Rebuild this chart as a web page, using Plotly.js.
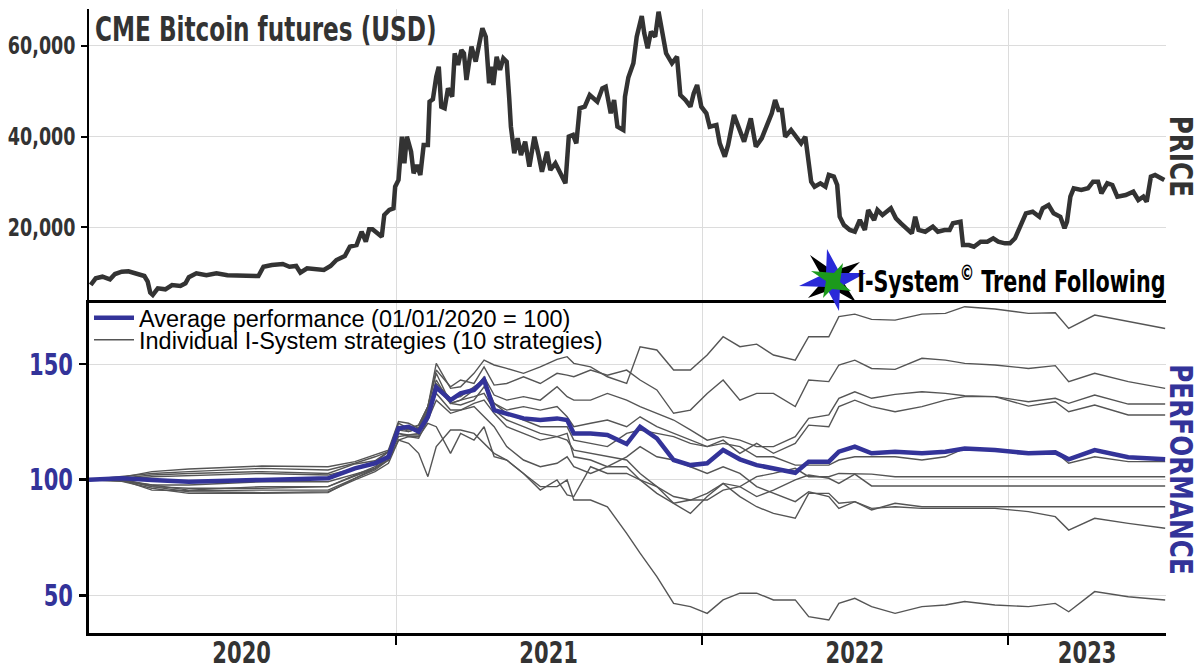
<!DOCTYPE html>
<html>
<head>
<meta charset="utf-8">
<script src="https://cdn.plot.ly/plotly-3.0.1.min.js"></script>
<style>html,body{margin:0;padding:0;background:#fff;}#chart{width:1203px;height:669px;}</style>
</head>
<body>
<div id="chart"></div>
<script>
// ---------------- DATA ----------------
const priceDates = ['2020-01-03','2020-01-09','2020-01-17','2020-01-26','2020-02-01','2020-02-09','2020-02-17','2020-02-26','2020-03-07','2020-03-11','2020-03-14','2020-03-17','2020-03-23','2020-04-01','2020-04-09','2020-04-19','2020-04-25','2020-04-29','2020-05-08','2020-05-20','2020-06-01','2020-06-14','2020-06-26','2020-07-09','2020-07-21','2020-07-27','2020-08-06','2020-08-19','2020-08-27','2020-09-04','2020-09-09','2020-09-17','2020-09-29','2020-10-07','2020-10-15','2020-10-22','2020-11-01','2020-11-07','2020-11-15','2020-11-21','2020-11-26','2020-11-30','2020-12-04','2020-12-12','2020-12-15','2020-12-18','2020-12-24','2020-12-29','2020-12-31','2021-01-04','2021-01-08','2021-01-11','2021-01-14','2021-01-19','2021-01-22','2021-01-26','2021-01-30','2021-02-03','2021-02-08','2021-02-10','2021-02-14','2021-02-18','2021-02-21','2021-02-24','2021-02-28','2021-03-04','2021-03-09','2021-03-12','2021-03-16','2021-03-20','2021-03-23','2021-03-26','2021-03-29','2021-04-01','2021-04-06','2021-04-10','2021-04-14','2021-04-18','2021-04-22','2021-04-25','2021-04-27','2021-05-01','2021-05-05','2021-05-09','2021-05-13','2021-05-16','2021-05-18','2021-05-22','2021-05-26','2021-05-30','2021-06-04','2021-06-09','2021-06-15','2021-06-20','2021-06-24','2021-06-30','2021-07-04','2021-07-10','2021-07-16','2021-07-22','2021-07-26','2021-07-31','2021-08-04','2021-08-08','2021-08-14','2021-08-20','2021-08-29','2021-09-04','2021-09-08','2021-09-14','2021-09-18','2021-09-22','2021-09-29','2021-10-01','2021-10-05','2021-10-11','2021-10-15','2021-10-21','2021-10-24','2021-10-28','2021-11-01','2021-11-06','2021-11-10','2021-11-15','2021-11-19','2021-11-26','2021-12-02','2021-12-06','2021-12-12','2021-12-18','2021-12-22','2021-12-26','2021-12-31','2022-01-06','2022-01-10','2022-01-18','2022-01-22','2022-01-28','2022-02-01','2022-02-08','2022-02-14','2022-02-20','2022-02-28','2022-03-06','2022-03-13','2022-03-19','2022-03-25','2022-03-29','2022-04-02','2022-04-06','2022-04-10','2022-04-17','2022-04-23','2022-04-29','2022-05-04','2022-05-07','2022-05-11','2022-05-15','2022-05-22','2022-05-28','2022-06-01','2022-06-07','2022-06-11','2022-06-14','2022-06-19','2022-06-26','2022-07-02','2022-07-08','2022-07-14','2022-07-18','2022-07-25','2022-07-29','2022-08-04','2022-08-14','2022-08-20','2022-08-26','2022-09-02','2022-09-08','2022-09-12','2022-09-16','2022-09-24','2022-10-03','2022-10-09','2022-10-17','2022-10-23','2022-10-27','2022-11-05','2022-11-08','2022-11-15','2022-11-21','2022-11-29','2022-12-07','2022-12-14','2022-12-20','2022-12-28','2023-01-03','2023-01-09','2023-01-16','2023-01-22','2023-01-30','2023-02-07','2023-02-11','2023-02-18','2023-02-24','2023-03-04','2023-03-09','2023-03-12','2023-03-16','2023-03-20','2023-03-29','2023-04-06','2023-04-12','2023-04-18','2023-04-22','2023-04-29','2023-05-05','2023-05-11','2023-05-21','2023-05-30','2023-06-05','2023-06-11','2023-06-15','2023-06-20','2023-06-25','2023-07-01','2023-07-06'];
const priceValues = [7290,8770,9120,8550,9710,10220,10300,9710,9270,8020,5600,5090,6560,6340,7290,7070,7660,9000,9870,9430,9870,9430,9430,9270,9270,11320,11700,11920,11320,11480,10000,10970,10750,10600,11480,12800,13680,15730,16100,19030,16830,19560,19560,18300,17930,22710,23810,24180,28940,30420,39960,34100,39960,36650,31890,33720,31520,38130,38130,47660,48190,53170,55370,46560,46210,50610,48770,58330,55750,59050,58330,52440,55750,59780,56480,60150,63830,61980,51720,55370,51340,57580,54650,57220,56480,48410,42160,36300,39600,35930,38850,33350,39960,35930,32250,36650,32620,34100,31890,29690,39960,40330,38500,46210,46560,49140,47660,50610,50970,45110,48040,42160,41430,48770,53000,56120,61980,66540,62730,59430,63090,61980,67490,61980,58330,56120,57580,49140,48040,46560,49510,51340,46560,45110,42160,42530,38500,35550,38130,44740,41810,38850,44010,37750,39600,42160,45110,48040,45840,45840,39960,41430,39960,38500,39960,35930,30040,28940,29690,28940,31520,31150,29320,22330,20510,19410,19030,21610,19410,23810,21610,23810,22710,24180,21980,20880,19780,18680,22330,19410,19030,20130,19030,19410,19410,20880,21230,16100,16100,15730,16830,16830,17580,16830,16470,16470,17580,20880,23080,23440,22330,24180,24910,23080,22330,19780,21230,26740,28590,28220,28590,30040,30040,27490,29690,29320,26740,27110,27840,26010,26740,25640,31150,31520,30790,30420];

const perfDates = ['2020-01-01','2020-02-09','2020-03-16','2020-04-29','2020-07-25','2020-10-12','2020-11-13','2020-12-07','2020-12-23','2021-01-04','2021-01-16','2021-01-28','2021-02-08','2021-02-18','2021-03-07','2021-03-19','2021-04-04','2021-04-16','2021-04-28','2021-05-13','2021-06-02','2021-06-22','2021-07-12','2021-07-24','2021-08-01','2021-08-21','2021-09-10','2021-10-03','2021-10-19','2021-11-08','2021-11-28','2021-12-18','2022-01-07','2022-01-26','2022-02-15','2022-03-07','2022-03-27','2022-04-22','2022-05-08','2022-06-01','2022-06-13','2022-07-02','2022-07-22','2022-08-19','2022-09-20','2022-10-18','2022-11-10','2022-12-16','2023-01-25','2023-02-26','2023-03-14','2023-04-14','2023-05-24','2023-07-07'];

const averagePerformance = [100,100.6,99.9,99.1,99.9,100.6,104.9,107.1,109.9,122.2,122.9,120.8,127.2,139.9,134.4,137.3,138.8,143.1,130.1,128.7,126.5,125.8,126.5,125.8,120.0,120.0,119.3,115.4,122.9,117.9,108.5,106.3,107.1,112.8,108.8,106.3,104.9,103.0,107.8,107.8,112.1,114.3,111.4,112.1,111.4,112.1,113.5,112.8,111.4,111.8,108.8,112.8,109.7,108.8];

const strategy1 = [100,101.0,103.5,104.6,105.9,105.6,107.8,110.7,112.8,125.1,124.4,122.2,131.6,150.3,139.5,140.2,146.0,151.7,149.6,148.1,146.0,148.8,152.0,153.2,150.3,148.8,144.5,141.6,157.5,156.1,147.4,147.4,153.9,161.8,157.5,158.6,153.9,151.7,161.8,161.8,170.5,171.6,169.3,169.0,171.6,171.9,174.8,173.8,171.9,172.2,165.4,171.2,168.3,165.4];
const strategy2 = [100,101.3,102.7,103.5,104.9,104.2,107.1,109.9,112.1,122.9,121.5,123.6,131.6,147.4,140.2,143.1,141.6,148.8,140.9,141.6,144.5,141.6,146.0,145.2,144.5,147.4,145.2,147.4,143.1,138.8,128.7,130.1,137.3,143.1,134.4,137.3,137.3,131.6,143.1,142.4,149.6,151.7,148.1,147.7,152.5,151.7,150.3,149.6,148.1,149.3,142.4,146.0,142.4,139.5];
const strategy3 = [100,100.6,102.0,102.7,103.5,102.7,106.8,108.2,112.1,124.4,122.2,123.6,131.6,146.0,133.0,134.4,138.8,144.5,136.6,134.4,135.9,134.4,140.2,135.9,134.4,134.4,137.3,134.4,131.6,128.7,125.8,121.5,117.1,118.6,117.1,114.3,114.3,118.6,126.5,128.0,135.2,138.0,135.2,136.9,138.0,137.3,136.3,135.9,133.7,135.2,133.0,136.6,132.7,132.7];
const strategy4 = [100,100.1,101.3,101.7,102.7,102.0,104.9,107.5,112.1,122.9,120.8,122.2,130.1,143.1,133.0,132.3,134.4,140.2,133.0,130.1,131.6,130.1,131.6,127.2,122.9,124.4,125.8,122.9,127.2,122.9,120.0,117.1,114.3,117.1,111.4,115.7,111.4,115.7,123.6,122.9,131.6,134.4,131.6,129.4,131.6,134.4,135.9,135.9,131.8,133.7,129.4,132.3,128.0,128.0];
const strategy5 = [100,99.4,97.7,97.7,99.1,99.1,102.4,104.9,108.5,121.5,120.8,122.2,128.7,141.6,135.2,135.9,140.2,143.1,133.0,128.7,125.8,122.9,122.9,122.9,117.1,115.7,114.3,120.0,121.5,120.0,118.6,115.7,114.3,115.7,114.3,109.9,109.9,106.3,106.3,106.3,108.5,109.9,109.9,109.9,108.5,109.9,113.5,112.8,111.4,112.1,107.1,109.9,107.8,107.8];
const strategy6 = [100,99.7,97.0,96.3,96.3,97.0,102.0,105.6,110.7,120.0,119.3,120.0,130.1,140.2,133.0,134.4,135.9,137.3,130.1,125.8,122.9,120.0,118.6,117.1,112.8,111.4,109.9,108.5,102.7,97.0,89.8,91.2,94.1,98.4,97.0,101.3,102.7,104.9,101.3,101.3,102.7,102.7,102.4,101.3,101.3,101.3,101.3,101.3,101.3,101.3,101.3,101.3,101.3,101.3];
const strategy7 = [100,99.9,95.5,95.2,95.5,95.5,100.6,104.9,109.2,118.6,119.3,119.3,128.7,137.3,130.1,130.1,133.0,134.4,128.7,122.9,120.0,117.1,118.6,120.0,109.9,108.5,105.6,105.6,99.9,97.0,92.7,91.2,91.2,95.5,97.0,92.7,95.5,99.9,102.0,100.6,98.4,102.4,97.3,97.3,97.3,97.3,97.3,97.3,97.3,97.3,97.3,97.3,97.3,97.3];
const strategy8 = [100,100.4,97.0,94.8,94.4,94.8,99.9,103.5,107.1,117.1,118.6,117.9,125.8,134.4,128.7,130.1,131.6,127.2,122.9,114.3,108.5,105.6,107.1,109.9,105.6,102.7,105.6,109.9,114.3,109.9,108.5,105.6,102.7,105.6,102.7,97.0,94.1,90.5,94.8,92.7,87.6,90.5,86.9,89.8,88.3,88.3,88.3,88.3,88.3,88.3,88.3,88.3,88.3,88.3];
const strategy9 = [100,99.3,96.3,94.1,94.1,94.4,100.6,104.2,108.5,117.1,115.7,111.4,101.3,114.3,121.5,121.5,120.0,115.7,111.4,108.5,102.7,95.5,99.9,93.4,92.7,105.6,102.7,102.7,99.9,94.1,89.8,85.4,92.7,98.4,92.7,88.3,85.4,83.3,94.1,94.1,89.8,90.5,87.6,88.3,87.6,87.6,87.6,87.6,86.2,84.0,78.2,83.3,81.1,79.0];
const strategy10 = [100,99.9,97.7,95.5,97.0,97.0,101.6,104.9,109.9,120.0,118.6,118.6,124.4,122.9,111.4,120.0,117.1,122.9,109.9,108.5,102.7,97.0,97.0,99.9,91.2,91.2,88.3,76.8,68.2,58.1,46.5,45.1,42.2,48.0,50.9,50.9,48.0,48.0,40.8,39.3,46.5,48.7,45.1,42.2,45.1,45.8,47.3,45.8,45.1,46.5,42.9,51.6,49.4,48.0];

const yearBoundaries = ['2021-01-01','2022-01-01','2023-01-01'];
const yearLabels = ['2020','2021','2022','2023'];
const yearLabelDates = ['2020-07-01','2021-07-02','2022-07-02','2023-04-05'];
const priceTicks = [20000,40000,60000];
const perfTicks = [50,100,150];

// ---------------- STYLE ----------------
const NARROW = "'DejaVu Sans Condensed', 'DejaVu Sans', sans-serif";
const ARIAL = "'Liberation Sans', Arial, sans-serif";
const BLUE = '#333399';
const GRID = '#dcdcdc';
const M = {l:89, r:37, t:9, b:36};
const W = 1203, H = 669;
const PW = W - M.l - M.r, PH = H - M.t - M.b;
const splitFrac = (H - M.b - 300) / PH;     // boundary between panels (pixel row 300)

function px(x){ return (x - M.l) / PW; }
function py(y){ return (H - M.b - y) / PH; }
function starPath(pts){
  return 'M' + pts.map(p => px(p[0]).toFixed(5) + ',' + py(p[1]).toFixed(5)).join('L') + 'Z';
}

const strategies = [strategy1,strategy2,strategy3,strategy4,strategy5,strategy6,strategy7,strategy8,strategy9,strategy10];

const traces = [];
traces.push({
  x: priceDates, y: priceValues, xaxis:'x2', yaxis:'y2', type:'scatter', mode:'lines',
  line:{color:'#333333', width:4.5}, showlegend:false, hoverinfo:'skip'
});
strategies.forEach((s, i) => {
  traces.push({
    x: perfDates, y: s, xaxis:'x', yaxis:'y', type:'scatter', mode:'lines',
    line:{color:'#555555', width:1.4},
    name:'Individual I-System strategies (10 strategies)',
    legendgroup:'strat', showlegend: i === 0, legend:'legend2', hoverinfo:'skip'
  });
});
traces.push({
  x: perfDates, y: averagePerformance, xaxis:'x', yaxis:'y', type:'scatter', mode:'lines',
  line:{color:BLUE, width:4.5},
  name:'Average performance (01/01/2020 = 100)', showlegend:true, legend:'legend', hoverinfo:'skip'
});

const legendBase = {
  xref:'paper', yref:'paper', x:0, xanchor:'left', yanchor:'middle',
  bgcolor:'rgba(0,0,0,0)', borderwidth:0,
  font:{family:ARIAL, size:23.5, color:'#000'}, itemwidth:40
};

const blackStar = [[810,255],[833,271],[860,262],[842,280],[856,302],[833,289],[808,298],[824,280]];
const blueStar  = [[827,249],[840,273],[866,273],[840,287],[839,311],[826,287],[799,286],[826,273]];
const greenStar = [[811,271],[834,273],[843,263],[840,282],[851,291],[832,289],[823,298],[826,281]];

const layout = {
  width:W, height:H, margin:M,
  paper_bgcolor:'#ffffff', plot_bgcolor:'#ffffff',
  hovermode:false, showlegend:true,
  xaxis:{
    anchor:'y', domain:[0,1], type:'date', range:['2020-01-01','2023-07-08'],
    tickmode:'array', tickvals:yearLabelDates, ticktext:yearLabels, ticks:'',
    ticklabelstandoff:-9,
    tickfont:{family:NARROW, size:30, color:'#333333', weight:'bold'},
    showgrid:false, zeroline:false,
    showline:true, linecolor:'#000', linewidth:3,
    minor:{tickmode:'array', tickvals:yearBoundaries, ticks:'outside', ticklen:9, tickwidth:2, tickcolor:'#000',
           showgrid:true, gridcolor:GRID, gridwidth:1}
  },
  xaxis2:{
    anchor:'y2', domain:[0,1], type:'date', range:['2020-01-01','2023-07-08'],
    tickmode:'array', tickvals:yearBoundaries, showticklabels:false, ticks:'',
    showgrid:true, gridcolor:GRID, gridwidth:1, zeroline:false,
    showline:true, linecolor:'#000', linewidth:2.5
  },
  yaxis:{
    anchor:'x', domain:[0, splitFrac], range:[33.7,177.7],
    tickmode:'array', tickvals:perfTicks, ticks:'outside', ticklen:7, tickwidth:2.5, tickcolor:'#000',
    tickfont:{family:NARROW, size:30, color:BLUE, weight:'bold'},
    showgrid:true, gridcolor:GRID, gridwidth:1, zeroline:false,
    showline:true, linecolor:'#000', linewidth:3
  },
  yaxis2:{
    anchor:'x2', domain:[splitFrac, 1], range:[3990,68080],
    tickmode:'array', tickvals:priceTicks, tickformat:',', ticks:'outside', ticklen:6, tickwidth:2, tickcolor:'#000',
    tickfont:{family:NARROW, size:25, color:'#333333', weight:'bold'},
    showgrid:true, gridcolor:GRID, gridwidth:1, zeroline:false,
    showline:true, linecolor:'#000', linewidth:2.5
  },
  legend: Object.assign({}, legendBase, {y: py(318)}),
  legend2: Object.assign({}, legendBase, {y: py(340)}),
  annotations:[
    {xref:'paper', yref:'paper', x:px(93), y:py(30), xanchor:'left', yanchor:'middle', align:'left', showarrow:false,
     text:'CME Bitcoin futures (USD)', font:{family:NARROW, size:33, color:'#333333', weight:'bold'}},
    {xref:'paper', yref:'paper', x:px(1181), y:py(156), xanchor:'center', yanchor:'middle', showarrow:false,
     textangle:90, text:'PRICE', font:{family:NARROW, size:32, color:'#333333', weight:'bold'}},
    {xref:'paper', yref:'paper', x:px(1181), y:py(469), xanchor:'center', yanchor:'middle', showarrow:false,
     textangle:90, text:'PERFORMANCE', font:{family:NARROW, size:32, color:BLUE, weight:'bold'}},
    {xref:'paper', yref:'paper', x:1, y:splitFrac, xanchor:'right', yanchor:'bottom', align:'right', showarrow:false, borderpad:0,
     text:'I-System<sup>©</sup> Trend Following', font:{family:NARROW, size:29.5, color:'#000000', weight:'bold'}}
  ],
  shapes:[
    {type:'path', xref:'paper', yref:'paper', path:starPath(blackStar), fillcolor:'#000000', line:{width:0}, layer:'above'},
    {type:'path', xref:'paper', yref:'paper', path:starPath(blueStar), fillcolor:'#2a2ad8', line:{width:0}, layer:'above'},
    {type:'path', xref:'paper', yref:'paper', path:starPath(greenStar), fillcolor:'#1c9a1c', line:{width:0}, layer:'above'}
  ]
};

// horizontally condense the heavy display texts (the reference uses a narrow display face)
function squeeze(t, s){
  const x = parseFloat(t.getAttribute('x')) || 0;
  const y = parseFloat(t.getAttribute('y')) || 0;
  const tr = t.getAttribute('transform') || '';
  t.setAttribute('transform', tr + ' translate(' + x + ',' + y + ') scale(' + s + ',1) translate(' + (-x) + ',' + (-y) + ')');
}
function condense(gd){
  gd.querySelectorAll('.xaxislayer-above text, .yaxislayer-above text').forEach(t => squeeze(t, 0.78));
  gd.querySelectorAll('.annotation-text').forEach(t => {
    const s = /PRICE|PERFORMANCE/.test(t.textContent) ? 0.86 : 0.78;
    squeeze(t, s);
  });
}

Plotly.newPlot('chart', traces, layout, {displayModeBar:false, staticPlot:true}).then(condense);
</script>
</body>
</html>
